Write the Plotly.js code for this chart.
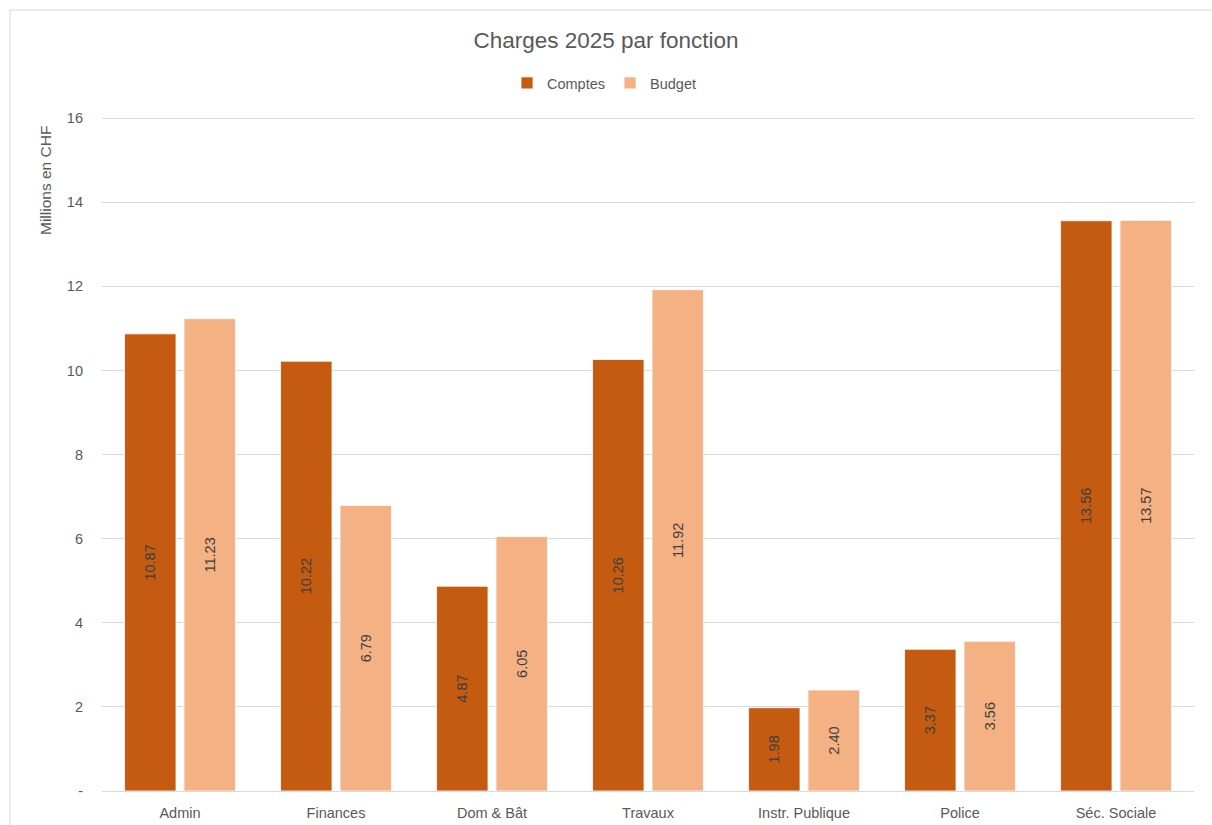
<!DOCTYPE html>
<html>
<head>
<meta charset="utf-8">
<script src="https://cdn.plot.ly/plotly-3.0.1.min.js"></script>
<style>html,body{margin:0;padding:0;background:#fff;}#chart{width:1212px;height:825px;}</style>
</head>
<body>
<div id="chart"></div>
<script>
const categories = ["Admin", "Finances", "Dom & Bât", "Travaux", "Instr. Publique", "Police", "Séc. Sociale"];
const comptes = [10.87, 10.22, 4.87, 10.26, 1.98, 3.37, 13.56];
const budget = [11.23, 6.79, 6.05, 11.92, 2.40, 3.56, 13.57];
const yTickVals = [0, 2, 4, 6, 8, 10, 12, 14, 16];
const yTickText = ["-", "2", "4", "6", "8", "10", "12", "14", "16"];

const W = 1212, H = 825;
const L = 102, R = 18, T = 116, B = 34;
const pw = W - L - R, ph = H - T - B;
const px = v => (v - L) / pw;
const py = v => (H - B - v) / ph;

const FONT = "Liberation Sans, Arial, sans-serif";
const textFont = {family: FONT, size: 14.5, color: "#404040"};

const traces = [
  {type: "bar", name: "Comptes", x: categories, y: comptes,
   text: comptes.map(v => v.toFixed(2)), textposition: "inside", insidetextanchor: "middle",
   textangle: -90, textfont: textFont, constraintext: "none",
   marker: {color: "#C55A11", line: {color: "#ffffff", width: 0.8}}, hoverinfo: "x+y"},
  {type: "bar", name: "Budget", x: categories, y: budget,
   text: budget.map(v => v.toFixed(2)), textposition: "inside", insidetextanchor: "middle",
   textangle: -90, textfont: textFont, constraintext: "none",
   marker: {color: "#F4B183", line: {color: "#ffffff", width: 0.8}}, hoverinfo: "x+y"}
];

const layout = {
  width: W, height: H,
  margin: {l: L, r: R, t: T, b: B, pad: 0},
  paper_bgcolor: "#ffffff", plot_bgcolor: "#ffffff",
  font: {family: FONT, color: "#595959", size: 14.5},
  title: {text: "Charges 2025 par fonction", font: {family: FONT, size: 22.5, color: "#595959"},
          x: 0.5, xanchor: "center", y: 1 - 40 / H, yanchor: "middle"},
  barmode: "group", bargap: 0.238, bargroupgap: 0.1345,
  showlegend: true,
  legend: {orientation: "h", x: px(604), xanchor: "center", y: py(83), yanchor: "middle",
           font: {family: FONT, size: 14.5, color: "#595959"}, itemwidth: 30, traceorder: "normal"},
  xaxis: {type: "category", showgrid: false, showline: true, linecolor: "#d9d9d9", linewidth: 1,
          ticks: "", tickfont: {family: FONT, size: 14.5, color: "#595959"}, ticklabelstandoff: 9},
  yaxis: {range: [0, 16.05], tickvals: yTickVals, ticktext: yTickText, showgrid: true,
          gridcolor: "#d9d9d9", gridwidth: 1, zeroline: false, showline: false, ticks: "",
          tickfont: {family: FONT, size: 14.5, color: "#595959"}, ticklabelstandoff: 18},
  annotations: [
    {text: "Millions en CHF", xref: "paper", yref: "paper", x: px(45), y: py(181),
     xanchor: "center", yanchor: "middle", textangle: -90, showarrow: false,
     font: {family: FONT, size: 15.5, color: "#595959"}}
  ],
  shapes: [
    {type: "rect", xref: "paper", yref: "paper", x0: px(10), x1: px(1240), y0: py(10), y1: py(860),
     line: {color: "#d9d9d9", width: 1}, fillcolor: "rgba(0,0,0,0)", layer: "below"}
  ]
};

Plotly.newPlot("chart", traces, layout, {displayModeBar: false, staticPlot: true});
</script>
</body>
</html>
